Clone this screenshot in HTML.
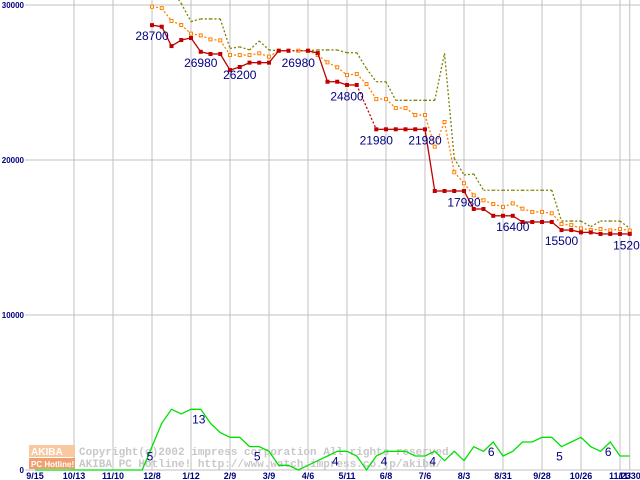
<!DOCTYPE html>
<html><head><meta charset="utf-8"><style>
html,body{margin:0;padding:0;background:#fff;}
svg{display:block;font-family:"Liberation Sans",sans-serif;}
</style></head><body>
<svg id="chart" width="640" height="480" viewBox="0 0 640 480" xmlns="http://www.w3.org/2000/svg">
<g id="grid"></g>
<g id="wm">
 <rect x="29" y="445" width="46" height="12" fill="#f8c8a0"/>
 <rect x="29" y="458" width="46" height="11" fill="#f0a070"/>
 <text x="31" y="455" font-size="10" font-weight="bold" fill="#fff">AKIBA</text>
 <text x="31" y="467" font-size="8" font-weight="bold" fill="#fff">PC Hotline!</text>
 <text x="79" y="455" font-size="11" font-weight="bold" font-family="Liberation Mono,monospace" fill="#c8c8c8">Copyright(c)2002 impress corporation All rights reserved.</text>
 <text x="79" y="467" font-size="11" font-weight="bold" font-family="Liberation Mono,monospace" fill="#c8c8c8">AKIBA PC Hotline!  http://www.watch.impress.co.jp/akiba/</text>
</g>
<g id="series"></g>
<g id="labels"></g>
</svg>
<script>
const weekLabels=["9/15","10/13","11/10","12/8","1/12","2/9","3/9","4/6","5/11","6/8","7/6","8/3","8/31","9/28","10/26","11/23","11/30"];
const weekLabelIdx=[0,4,8,12,16,20,24,28,32,36,40,44,48,52,56,60,61];
const yTicks=[0,10000,20000,30000];
const minPrice=[null,null,null,null,null,null,null,null,null,null,null,null,
28700,28600,27350,27740,27870,26980,26840,26840,25800,26000,26280,26280,26280,27050,27050,null,27050,26900,25050,25050,24840,24840,
null,21980,21980,21980,21980,21980,21980,18000,18000,18000,18000,16840,16840,16400,16400,16400,16000,16000,16000,16000,15480,15480,15330,15330,15230,15230,15230,15230];
const avgPrice=[null,null,null,null,null,null,null,null,null,null,null,null,
29890,29800,28970,28710,28150,28040,27780,27720,26770,26770,26770,26880,26670,27050,27050,27050,27050,26770,26300,25980,25480,25550,
24900,23930,23930,23350,23350,22900,22900,20860,22450,19210,18500,17720,17400,17160,16970,17200,16860,16650,16650,16560,15870,15800,15590,15480,15550,15460,15550,15450];
const maxPrice=[null,null,null,null,null,null,null,null,null,null,null,null,
null,null,31000,30100,28930,29100,29100,29100,27200,27300,27100,27680,27100,27050,27050,27050,27050,27100,27100,27100,26920,26920,
25900,25050,25050,23850,23850,23850,23850,23850,26880,20110,19030,19100,18050,18050,18050,18050,18050,18050,18050,18050,16060,16060,16060,15700,16060,16060,16060,15590];
const shopCount=[0,0,0,0,0,0,0,0,0,0,0,0,
5,10,13,12,13,13,10,8,7,7,5,5,4,1,1,0,1,2,3,4,4,3,
0,3,4,4,4,3,3,4,2,4,2,5,4,6,3,4,6,6,7,7,5,6,7,5,4,6,3,3];
const priceLabels=[[12,28700],[17,26980],[21,26200],[27,26980],[32,24800],[35,21980],[40,21980],[44,17980],[49,16400],[54,15500],[61,15200]];
const countLabels=[[12,5],[17,13],[23,5],[31,4],[36,4],[41,4],[47,6],[54,5],[59,6]];

const NS="http://www.w3.org/2000/svg";
const X=i=>35+9.75*i;
const Y=v=>470-v*0.0155;
const YC=c=>470-c*4.67;
function mk(tag,attrs,parent){const e=document.createElementNS(NS,tag);for(const k in attrs)e.setAttribute(k,attrs[k]);parent.appendChild(e);return e;}
const grid=document.getElementById('grid'),series=document.getElementById('series'),labels=document.getElementById('labels');
yTicks.forEach(v=>{
 const l=mk('line',{x1:25,x2:640,y1:Y(v),y2:Y(v),stroke:'#c0c0c0','stroke-width':1},grid);
 
 
 const t=mk('text',{x:24,y:Y(v)+3,'font-size':8,'font-weight':'bold',fill:'#000080','text-anchor':'end'},labels);
 t.textContent=String(v);
 
 
});
weekLabels.forEach((s,k)=>{
 const x=X(weekLabelIdx[k]);
 if(k>0){const l=mk('line',{x1:x,x2:x,y1:0,y2:470,stroke:'#c0c0c0','stroke-width':1},grid);
 
 }
 const t=mk('text',{x:x,y:479,'font-size':9,'font-weight':'bold',fill:'#000080','text-anchor':'middle'},labels);
 t.textContent=s;
 
 
});
function drawSeries(arr,color,name,marker,dashAll){
 const g=mk('g',{'clip-path':'url(#clip)'},series);
 
 
 let prev=-1;
 for(let i=0;i<arr.length;i++){
  if(arr[i]==null)continue;
  if(prev>=0){
   const dashed=dashAll||(i-prev>1);
   const l=mk('line',{x1:X(prev),y1:Y(arr[prev]),x2:X(i),y2:Y(arr[i]),stroke:color,'stroke-width':1.3},g);
   if(dashed)l.setAttribute('stroke-dasharray','2,2');
   
   
  }
  prev=i;
 }
 if(marker) arr.forEach((v,i)=>{ if(v==null)return;
  const r=marker==='filled'?mk('rect',{x:X(i)-2,y:Y(v)-2,width:4,height:4,fill:color},g):mk('rect',{x:X(i)-1.5,y:Y(v)-1.5,width:3,height:3,fill:'#fff',stroke:color,'stroke-width':1},g);
  
  
 });
}
const defs=mk('defs',{},document.getElementById('chart'));
const cp=mk('clipPath',{id:'clip'},defs);mk('rect',{x:0,y:0,width:640,height:480},cp);
drawSeries(maxPrice,'#808000','max-price-line',null,true);
drawSeries(avgPrice,'#ff8000','avg-price-line','hollow',true);
drawSeries(minPrice,'#c00000','min-price-line','filled',false);
{const pts=shopCount.map((c,i)=>X(i)+','+YC(c)).join(' ');
 const p=mk('polyline',{points:pts,fill:'none',stroke:'#00e000','stroke-width':1.3},series);
 
 }
priceLabels.forEach(([i,v])=>{
 const t=mk('text',{x:X(i),y:Y(v)+15,'font-size':12,fill:'#000080','text-anchor':'middle'},labels);
 t.textContent=String(v);
 
 
});
countLabels.forEach(([i,c])=>{
 const t=mk('text',{x:X(i)-2,y:YC(c)+14,'font-size':12,fill:'#000080','text-anchor':'middle'},labels);
 t.textContent=String(c);
 
 
});
</script>
</body></html>
